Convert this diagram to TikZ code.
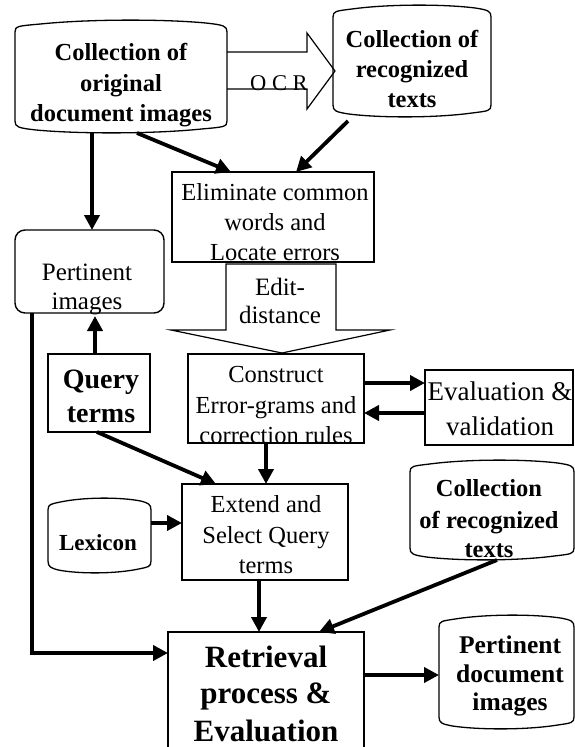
\documentclass[tikz,border=0pt]{standalone}
\usepackage{fontspec}
\setmainfont{Liberation Serif}
\usetikzlibrary{arrows.meta}
\newcommand\scrollbox[4]{% x1 y1 x2 y2
\draw[scrollline] ({#1},{#2+12}) .. controls ({#1},{#2+6}) and ({#1+3},{#2+6}) .. ({#1+0.12*(#3-#1)},{#2+4})
 .. controls ({#1+0.35*(#3-#1)},{#2-1}) and ({#1+0.7*(#3-#1)},{#2-1}) .. ({#3-0.1*(#3-#1)},{#2+3})
 .. controls ({#3-3},{#2+5}) and ({#3},{#2+6}) .. ({#3},{#2+12})
 -- ({#3},{#4-12})
 .. controls ({#3},{#4-6}) and ({#3-3},{#4-6}) .. ({#3-0.12*(#3-#1)},{#4-4})
 .. controls ({#3-0.35*(#3-#1)},{#4+1}) and ({#1+0.3*(#3-#1)},{#4+1}) .. ({#1+0.1*(#3-#1)},{#4-3})
 .. controls ({#1+3},{#4-5}) and ({#1},{#4-6}) .. ({#1},{#4-12}) -- cycle;}
\begin{document}
\begin{tikzpicture}[x=1pt,y=-1pt,
  ghost/.style={inner sep=0pt,outer sep=0pt,draw=none},
  boxed/.style={draw,line width=2pt,inner sep=0pt,outer sep=0pt},
  scrollline/.style={line width=1.3pt},
  blockarrow/.style={line width=1.2pt},
  arr/.style={line width=3.8pt,-{Triangle[length=15pt,width=15pt]}},
  tl/.style={anchor=base,inner sep=0pt,outer sep=0pt},
  fb/.style={font=\bfseries\fontsize{#1}{#1}\selectfont},
  fr/.style={font=\fontsize{#1}{#1}\selectfont}]
\useasboundingbox (0,0) rectangle (575,747);
\fill[white] (0,0) rectangle (575,747);

% ---------- shapes ----------
\node[ghost,minimum width=212pt,minimum height=113pt] (orig) at (121,76.5) {};
\scrollbox{15}{20}{227}{133}
\node[ghost,minimum width=158pt,minimum height=112pt] (recog) at (412,61) {};
\scrollbox{333}{5}{491}{117}
\node[boxed,minimum width=202pt,minimum height=90pt] (elim) at (273,217) {};
\node[boxed,line width=1.4pt,rounded corners=10pt,minimum width=149pt,minimum height=83pt] (pimg) at (89.5,271.5) {};
\node[boxed,minimum width=102pt,minimum height=78pt] (query) at (99,393) {};
\node[boxed,minimum width=176pt,minimum height=89pt] (constr) at (276,398.5) {};
\node[boxed,minimum width=148pt,minimum height=75pt] (evalv) at (499,407.5) {};
\node[boxed,minimum width=166pt,minimum height=96pt] (extend) at (265,532) {};
\node[ghost,minimum width=103pt,minimum height=75pt] (lex) at (99.5,535.5) {};
\scrollbox{48}{498}{151}{573}
\node[ghost,minimum width=164pt,minimum height=100pt] (coll2) at (492,510) {};
\scrollbox{410}{460}{574}{560}
\node[ghost,minimum width=196pt,minimum height=115pt] (retr) at (266,689.5) {};
\draw[line width=2pt] (retr.south west) -- (retr.north west) -- (retr.north east) -- (retr.south east);
\node[ghost,minimum width=135pt,minimum height=114pt] (pdoc) at (506.5,672) {};
\scrollbox{439}{615}{574}{729}

% ---------- block arrows ----------
\draw[blockarrow] (227,52) -- (307,52) -- (307,33) -- (335,71) -- (307,109) -- (307,89) -- (227,89);
\draw[blockarrow] (226,264) -- (226,330) -- (171,330) -- (282,353) -- (390,330) -- (336,330) -- (336,264) -- cycle;

% ---------- texts ----------
\node[tl,fb=24.5] (t1a) at (121,60) {Collection of};
\node[tl,fb=24.5] (t1b) at (121,91) {original};
\node[tl,fb=24.5] (t1c) at (121,121) {document images};
\node[tl,fb=24.5] (t2a) at (412,47) {Collection of};
\node[tl,fb=24.5] (t2b) at (412,77) {recognized};
\node[tl,fb=24.5] (t2c) at (412,107) {texts};
\node[tl,fr=22.5] (tocr) at (279,90) {O C R};
\node[tl,fr=24.5] (t3a) at (275,200) {Eliminate common};
\node[tl,fr=24.5] (t3b) at (275,230) {words and};
\node[tl,fr=24.5] (t3c) at (275,260) {Locate errors};
\node[tl,fr=25] (t4a) at (87,280) {Pertinent};
\node[tl,fr=25] (t4b) at (87,309) {images};
\node[tl,fr=25] (t5a) at (280,295) {Edit-};
\node[tl,fr=25] (t5b) at (280,323) {distance};
\node[tl,fb=28] (t6a) at (101,388) {Query};
\node[tl,fb=28] (t6b) at (101,422) {terms};
\node[tl,fr=24.5] (t7a) at (276,382) {Construct};
\node[tl,fr=24.5] (t7b) at (276,413) {Error-grams and};
\node[tl,fr=24.5] (t7c) at (276,443) {correction rules};
\node[tl,fr=27] (t8a) at (500,400) {Evaluation \&};
\node[tl,fr=27] (t8b) at (500,435) {validation};
\node[tl,fr=24.5] (t9a) at (266,512) {Extend and};
\node[tl,fr=24.5] (t9b) at (266,543) {Select Query};
\node[tl,fr=24.5] (t9c) at (266,573) {terms};
\node[tl,fb=23] (t10) at (98,550) {Lexicon};
\node[tl,fb=24.5] (t11a) at (489,496) {Collection};
\node[tl,fb=24.5] (t11b) at (489,528) {of recognized};
\node[tl,fb=24.5] (t11c) at (489,557) {texts};
\node[tl,fb=31] (t12a) at (266,667) {Retrieval};
\node[tl,fb=31] (t12b) at (266,703) {process \&};
\node[tl,fb=31] (t12c) at (266,741) {Evaluation};
\node[tl,fb=25.5] (t13a) at (510,653) {Pertinent};
\node[tl,fb=25.5] (t13b) at (510,682) {document};
\node[tl,fb=25.5] (t13c) at (510,710) {images};

% ---------- connectors ----------
\draw[arr] ([xshift=-29pt]orig.south) -- ([xshift=2.5pt]pimg.north);
\draw[arr] ([xshift=16pt]orig.south) -- ([xshift=-42pt]elim.north);
\draw[arr] ([xshift=-64pt,yshift=-4pt]recog.south) -- ([xshift=23pt]elim.north);
\draw[arr] ([xshift=-4pt]query.north) -- ([xshift=5.5pt,yshift=-3pt]pimg.south);
\draw[arr] ([yshift=15.5pt]constr.east) -- ([yshift=24.5pt]evalv.west);
\draw[arr] ([yshift=-5.5pt]evalv.west) -- ([yshift=-14.5pt]constr.east);
\draw[arr] ([xshift=-10pt]constr.south) -- ([xshift=1pt]extend.north);
\draw[arr] ([xshift=-2pt]query.south) -- ([xshift=-49pt]extend.north);
\draw[arr] ([yshift=12.5pt]lex.east) -- ([yshift=9pt]extend.west);
\draw[arr] ([xshift=-6pt]extend.south) -- ([xshift=-7pt]retr.north);
\draw[arr] ([xshift=5pt]coll2.south) -- ([xshift=53pt]retr.north);
\draw[arr] ([xshift=-57.5pt]pimg.south) |- ([yshift=36.5pt]retr.west);
\draw[arr] ([yshift=14.5pt]retr.east) -- ([yshift=-3pt]pdoc.west);
\end{tikzpicture}
\end{document}
